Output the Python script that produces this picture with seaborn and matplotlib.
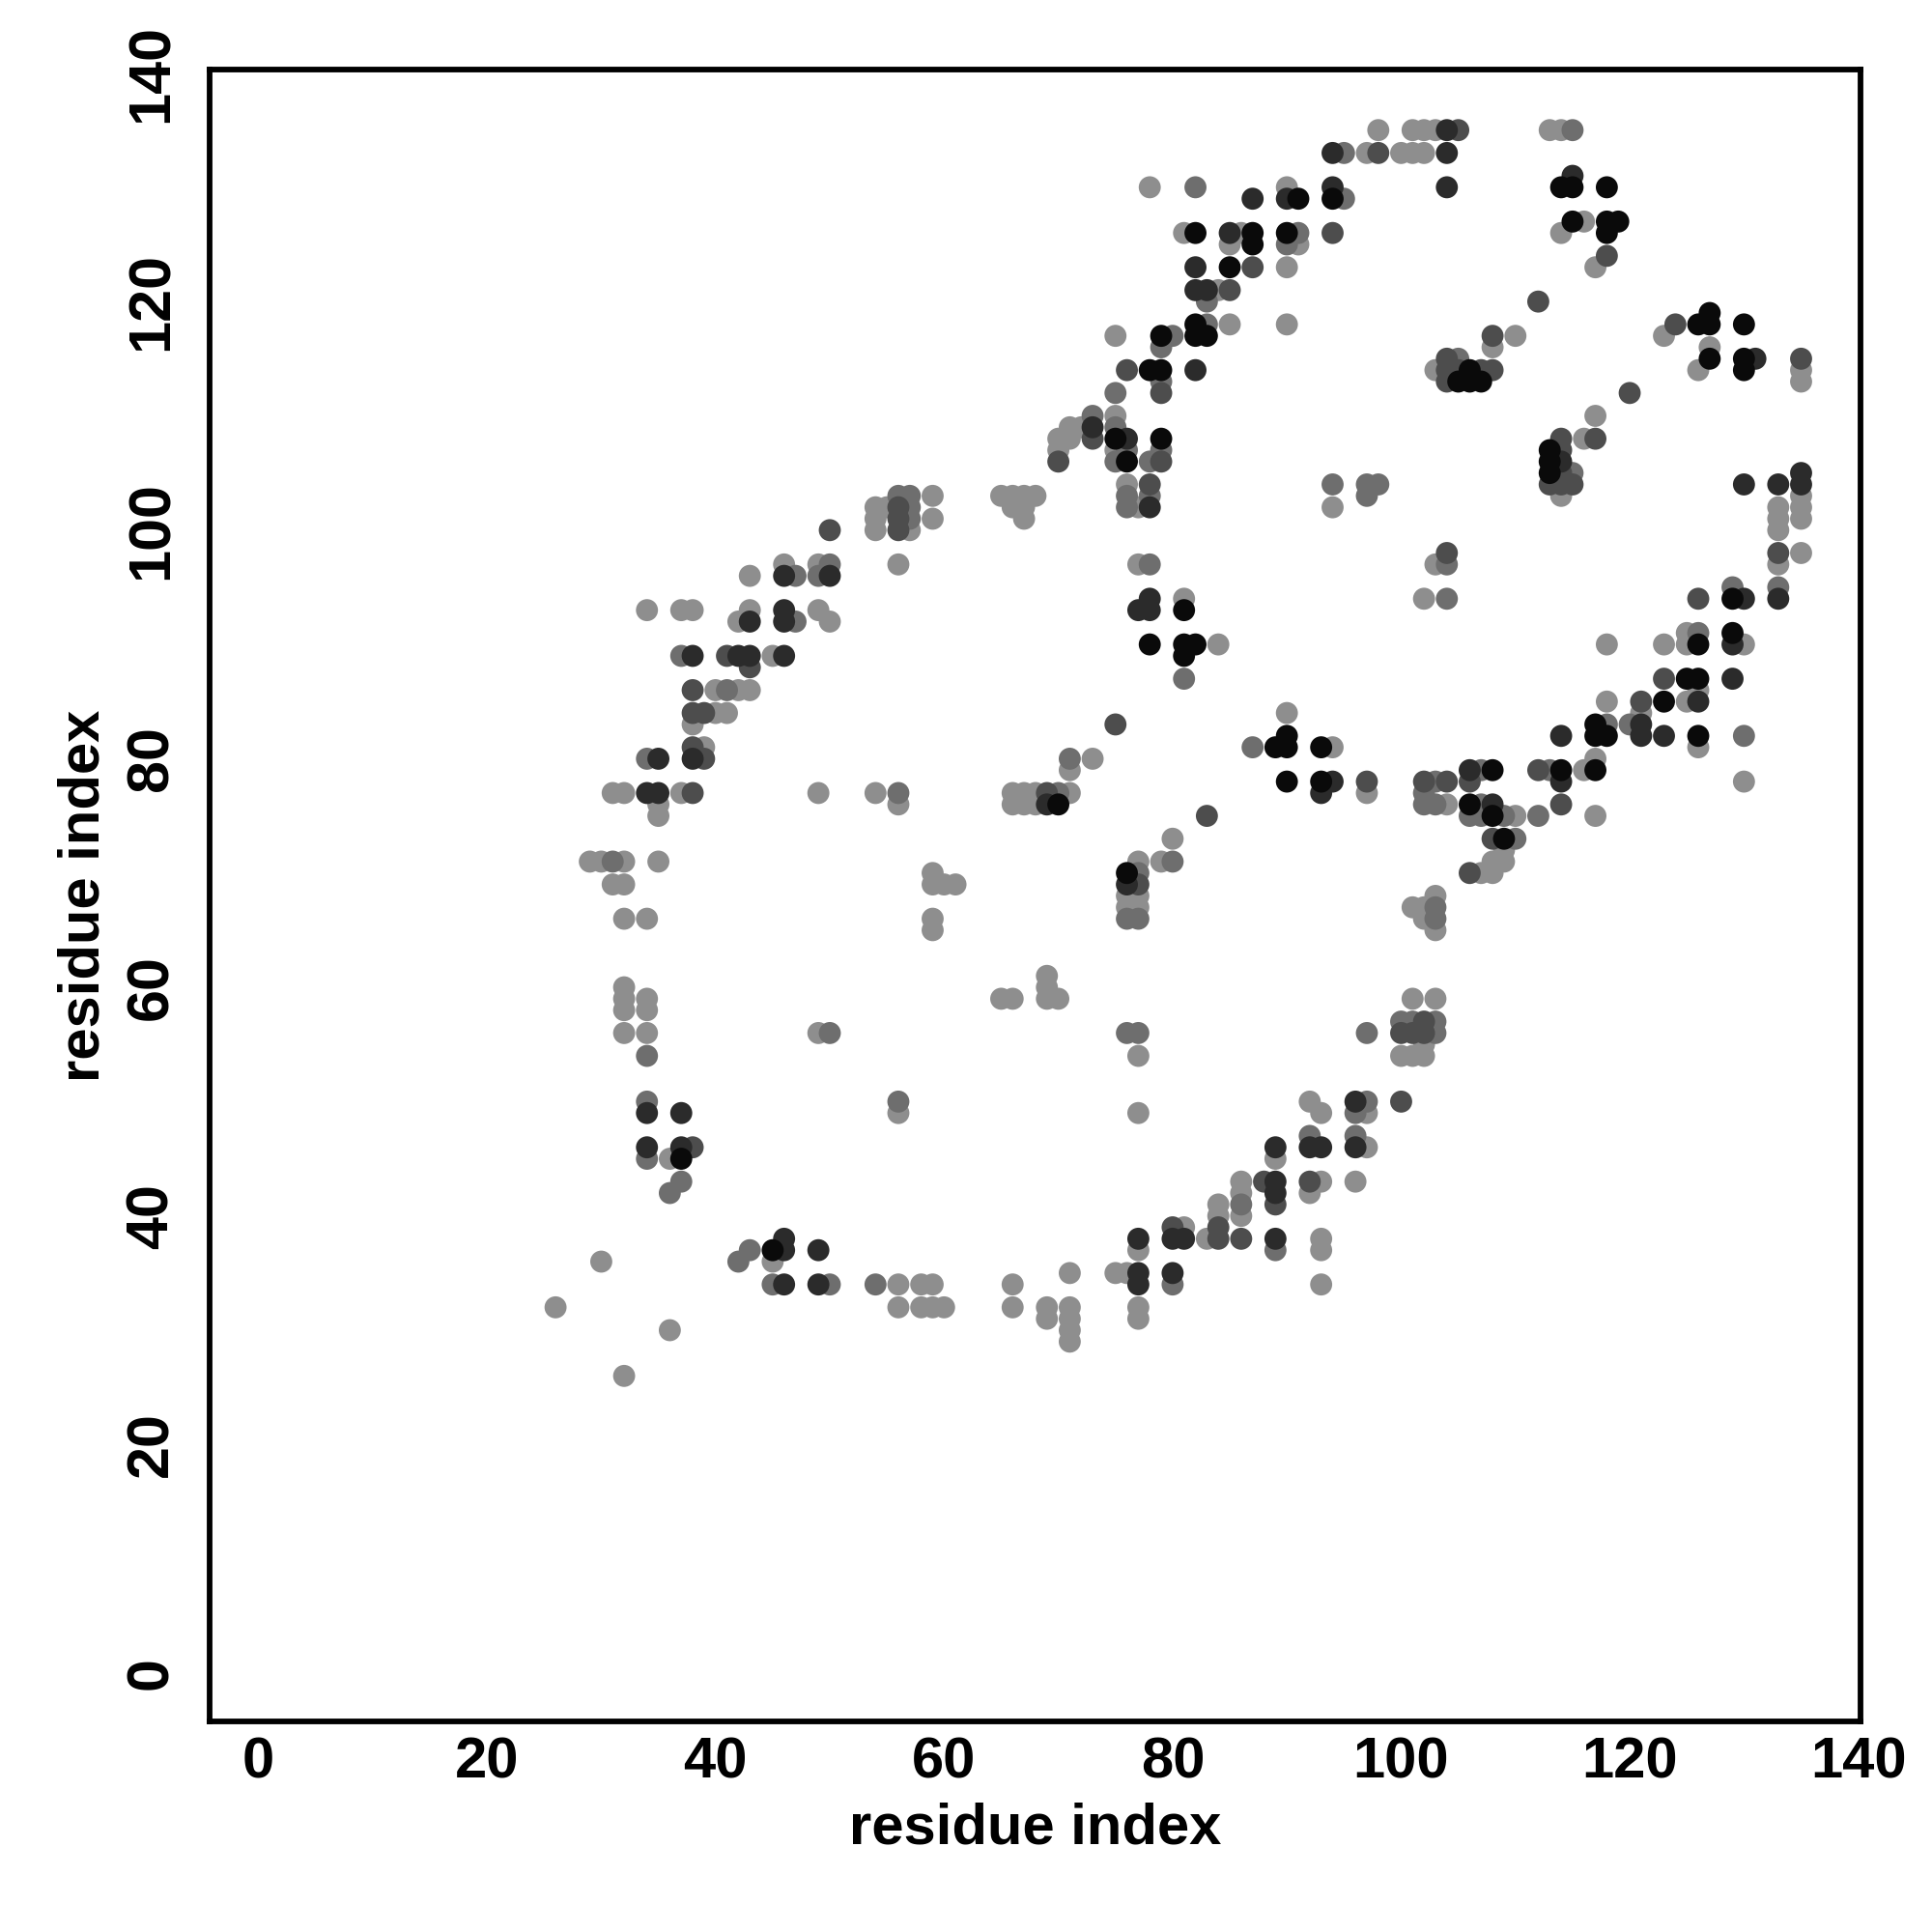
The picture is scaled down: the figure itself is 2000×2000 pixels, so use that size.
import matplotlib
matplotlib.use("Agg")
import matplotlib.pyplot as plt
import seaborn as sns
import pandas as pd

# ---- data: residue contact pairs (i, j) grouped by shade ----
shade_order = ["light", "gray", "mid", "dark", "black"]
shade_colors = {"light": "#8e8e8e", "gray": "#6e6e6e", "mid": "#4d4d4d",
                "dark": "#2b2b2b", "black": "#0a0a0a"}

light_pairs = [
    (54,102),(55,102),(54,101),(54,100),(57,100),(59,103),(59,101),
    (56,97),(46,97),(43,96),(49,97),(34,93),(37,93),(38,93),(43,93),(42,92),(49,93),(50,92),
    (45,89),(40,86),(42,86),(43,86),(40,84),(41,84),(38,83),(39,81),(31,77),(32,77),(37,77),
    (35,76),(35,75),(49,77),(54,77),(56,76),(29,71),(30,71),(32,71),(35,71),(31,69),(32,69),
    (32,66),(34,66),(59,70),(59,69),(60,69),(61,69),(59,66),(59,65),
    (32,60),(32,59),(32,58),(34,59),(34,58),(32,56),(34,56),(49,56),(56,49),(30,36),(26,32),
    (36,30),(32,26),(36,45),(45,36),(56,34),(58,34),(59,34),(56,32),(58,32),(59,32),(60,32),
    (69,61),(69,60),(69,59),(70,59),(65,59),(66,59),(77,54),(77,49),(92,50),(93,49),(97,49),
    (89,45),(97,46),(86,43),(86,42),(86,40),(93,43),(92,42),(96,43),(84,41),(84,40),(83,38),
    (81,39),(77,37),(93,38),(93,37),(93,34),(75,35),(76,35),(71,35),(66,34),(66,32),(69,32),
    (69,31),(71,32),(71,31),(71,30),(71,29),(77,32),(77,31),
    (101,59),(103,59),(102,55),(100,54),(101,54),(102,54),
    (77,97),(81,94),(84,90),(71,79),(73,80),(66,77),(67,77),(68,77),(71,77),(66,76),(67,76),
    (68,76),(90,84),(94,81),(97,77),(80,73),(79,71),(77,71),(76,68),(77,68),(76,67),(77,67),
    (98,135),(97,133),(78,130),(90,130),(81,126),(86,126),(85,125),(91,125),(90,123),(84,121),
    (85,118),(90,118),(75,117),(75,110),(72,109),(71,109),(71,108),(70,108),(70,107),(75,107),
    (76,104),(77,102),(94,102),(65,103),(66,103),(67,103),(68,103),(66,102),(67,102),(67,101),
    (101,135),(102,135),(103,135),(113,135),(114,135),(100,133),(101,133),(102,133),(116,127),
    (114,126),(117,123),(110,117),(108,116),(103,114),(117,110),(116,108),(114,103),(123,117),
    (127,116),(126,114),(135,114),(135,113),(135,103),(135,102),(135,101),(133,102),(133,101),
    (133,100),(133,97),(135,98),(103,97),(102,94),(118,90),(123,90),(125,91),(125,90),(130,90),
    (126,86),(118,85),(125,85),(121,84),(126,81),(117,80),(116,79),(104,76),(110,75),(117,75),
    (130,78),(109,72),(109,71),(108,71),(107,70),(108,70),(103,68),(101,67),(102,67),(102,66),
    (103,65),
]
gray_pairs = [
    (56,103),(57,103),(57,102),(57,101),
    (47,96),(50,97),(49,96),(47,92),(37,89),(41,86),(34,80),(56,77),(31,71),
    (34,54),(50,56),(34,50),(34,45),(37,43),(36,42),(56,50),(43,37),(42,36),(45,34),(50,34),(54,34),
    (76,56),(77,56),(97,56),(97,50),(96,49),(92,47),(96,47),(86,41),(89,37),(80,34),
    (100,57),(101,57),(103,57),(103,56),
    (78,97),(81,87),(71,80),(70,77),(80,71),(77,70),(76,66),(77,66),(87,81),
    (95,133),(82,130),(95,129),(91,126),(90,125),(83,120),(83,118),(80,117),(79,116),(79,113),
    (75,112),(73,110),(75,109),(75,106),(76,107),(79,107),(78,106),(76,103),(78,103),(76,102),
    (94,104),(97,104),(98,104),(97,103),
    (115,135),(105,115),(115,105),
    (104,97),(104,94),(133,95),(129,95),(126,91),(120,83),(118,83),(130,82),(113,79),(107,79),
    (103,78),(102,77),(102,76),(103,76),(107,76),(106,75),(107,75),(109,75),(112,75),(110,73),
    (103,67),(103,66),
]
mid_pairs = [
    (50,100),(56,102),(56,101),(56,100),
    (41,89),(43,88),(38,86),(38,84),(39,84),(38,81),(39,80),(38,77),
    (38,46),
    (88,43),(89,41),(92,43),(84,39),(84,38),(80,39),(86,38),
    (100,56),(101,56),(102,56),(102,57),(100,50),
    (75,83),(69,77),(97,78),(83,75),(77,69),
    (98,133),(94,126),(87,123),(85,121),(76,114),(79,112),(73,108),(70,106),(79,106),(78,104),
    (105,135),(118,124),(112,120),(108,117),(104,114),(105,114),(107,114),(108,114),(104,115),
    (104,113),(120,112),(117,108),(114,108),(113,104),(114,107),(114,105),(114,104),(115,104),
    (124,118),(135,115),
    (133,98),(104,98),(126,94),(123,87),(121,85),(112,79),(106,78),(102,78),(104,78),(114,76),
    (108,73),(106,70),
]
dark_pairs = [
    (46,96),(50,96),(43,92),(46,93),(46,92),(38,89),(42,89),(43,89),(46,89),(38,80),(35,80),
    (34,77),(35,77),
    (34,49),(37,49),(34,46),(37,46),(46,38),(46,37),(49,37),(46,34),(49,34),
    (96,50),(89,46),(92,46),(93,46),(96,46),(89,43),(89,42),(80,38),(81,38),(77,38),(89,38),
    (77,35),(77,34),(80,35),
    (78,94),(77,93),(78,93),(69,76),(94,78),(93,77),(76,69),
    (94,133),(87,129),(90,129),(94,130),(85,126),(82,123),(82,121),(83,121),(82,114),(73,109),
    (76,108),(78,102),
    (104,135),(104,133),(104,130),(115,131),(131,115),(114,106),(130,104),(133,104),(135,105),
    (135,104),
    (133,94),(130,94),(129,90),(129,87),(126,85),(121,83),(121,82),(114,82),(123,82),(114,78),
    (106,79),(108,76),
]
black_pairs = [
    (37,45),(45,37),
    (81,93),(78,90),(81,90),(82,90),(81,89),(90,82),(89,81),(90,81),(93,81),(90,78),(93,78),
    (70,76),(76,70),
    (91,129),(94,129),(82,126),(87,126),(87,125),(90,126),(85,123),(82,118),(82,117),(83,117),
    (79,117),(78,114),(79,114),(75,108),(76,106),(79,108),
    (114,130),(115,130),(118,130),(115,127),(118,127),(119,127),(118,126),(106,114),(105,113),
    (106,113),(107,113),(113,107),(113,106),(113,105),(126,118),(127,119),(127,118),(130,118),
    (127,115),(130,115),(130,114),
    (129,94),(126,90),(129,91),(125,87),(126,87),(123,85),(117,83),(117,82),(118,82),(126,82),
    (117,79),(114,79),(108,79),(106,76),(108,75),(109,73),
]

x_ticks = [0, 20, 40, 60, 80, 100, 120, 140]
y_ticks = [0, 20, 40, 60, 80, 100, 120, 140]
x_title = "residue index"
y_title = "residue index"

groups = {"light": light_pairs, "gray": gray_pairs, "mid": mid_pairs,
          "dark": dark_pairs, "black": black_pairs}
rows = []
for shade in shade_order:
    for (i, j) in groups[shade]:
        rows.append({"i": i, "j": j, "shade": shade})
df = pd.DataFrame(rows)

# ---- plotting ----
sns.set_style("white")
plt.rcParams["font.family"] = ["Liberation Sans", "DejaVu Sans"]
plt.rcParams["font.weight"] = "bold"
plt.rcParams["text.color"] = "black"
plt.rcParams["axes.labelcolor"] = "black"
plt.rcParams["xtick.color"] = "black"
plt.rcParams["ytick.color"] = "black"

fig = plt.figure(figsize=(20, 20), dpi=100)
ax = fig.add_axes([0.1084, 0.109, 0.8546, 0.855])

sns.scatterplot(data=df, x="i", y="j", hue="shade", hue_order=shade_order,
                palette=shade_colors, s=270, linewidth=0, legend=False, ax=ax)

ax.set_xlim(-4.29, 140.2)
ax.set_ylim(-4.23, 140.3)
ax.set_xticks(x_ticks)
ax.set_yticks(y_ticks)
ax.set_xticklabels([str(t) for t in x_ticks], fontsize=43, fontweight="bold",
                   color="black")
ax.set_yticklabels([str(t) for t in y_ticks], fontsize=44, fontweight="bold",
                   rotation=90, va="center", color="black")
ax.tick_params(axis="both", direction="out", length=7, width=2.6, color="black")
ax.tick_params(axis="x", pad=4)
ax.tick_params(axis="y", pad=15)

for sp in ax.spines.values():
    sp.set_visible(True)
    sp.set_color("black")
    sp.set_linewidth(4.2)

ax.set_xlabel(x_title, fontsize=43, fontweight="bold", color="black")
ax.set_ylabel(y_title, fontsize=43, fontweight="bold", color="black")
ax.xaxis.set_label_coords(0.5, -0.049)
ax.yaxis.set_label_coords(-0.060, 0.5)

fig.savefig("out.png", dpi=100, facecolor="white")
